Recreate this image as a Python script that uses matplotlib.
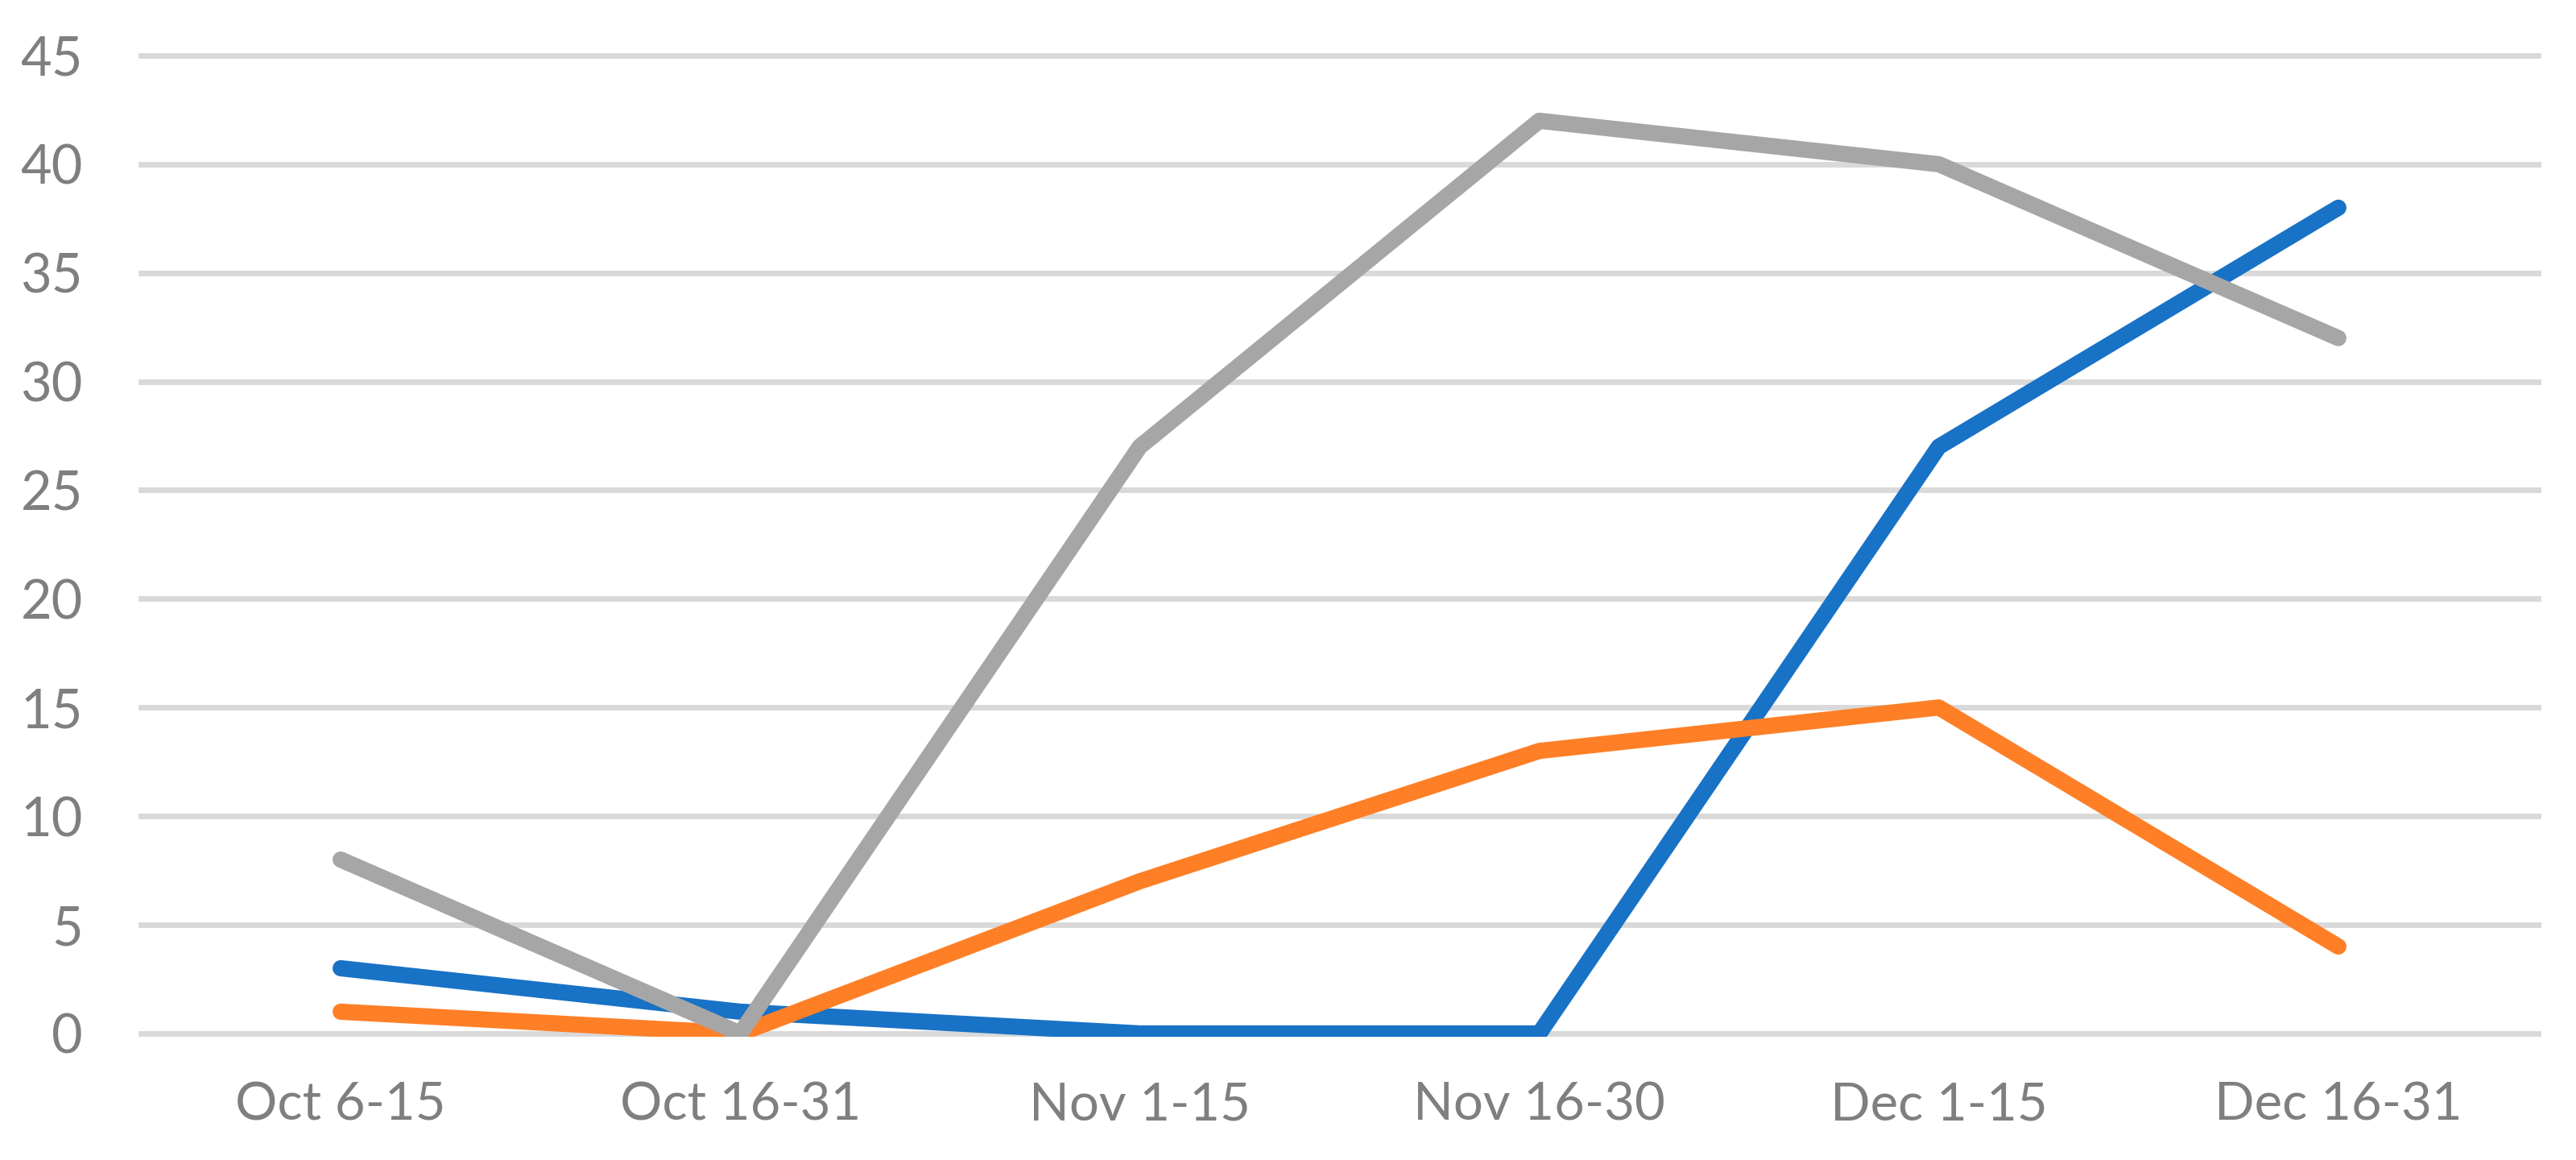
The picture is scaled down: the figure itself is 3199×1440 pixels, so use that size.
import numpy as np
import matplotlib
matplotlib.use("Agg")
import matplotlib.pyplot as plt

# data
periods = ["Oct 6-15", "Oct 16-31", "Nov 1-15", "Nov 16-30", "Dec 1-15", "Dec 16-31"]
blue_vals = [3, 1, 0, 0, 27, 38]
orange_vals = [1, 0, 7, 13, 15, 4]
gray_vals = [8, 0, 27, 42, 40, 32]
y_ticks = [0, 5, 10, 15, 20, 25, 30, 35, 40, 45]

plt.rcParams['font.family'] = ['Lato', 'DejaVu Sans']

fig = plt.figure(figsize=(31.99, 14.4), dpi=100)
ax = fig.add_axes([0.0547, 0.1063, 0.9306, 0.8486])

x = np.arange(len(periods))
line_kw = dict(linewidth=14.5, solid_capstyle="round", solid_joinstyle="round", zorder=3)
ax.plot(x, blue_vals, color="#1872C6", **line_kw)
ax.plot(x, orange_vals, color="#FE7F26", **line_kw)
ax.plot(x, gray_vals, color="#A6A6A6", **line_kw)

ax.set_xlim(-0.5, len(periods) - 0.5)
ax.set_ylim(-0.15, 45.15)
ax.set_yticks(y_ticks)
ax.set_xticks(x)
ax.set_xticklabels(periods)

for v in y_ticks:
    ax.axhline(v, color="#D9D9D9", linewidth=5, zorder=1, clip_on=False)

for s in ax.spines.values():
    s.set_visible(False)
ax.tick_params(axis="both", length=0, labelsize=48, labelcolor="#7F7F7F")
ax.tick_params(axis="x", labelsize=47)
ax.tick_params(axis="y", pad=52)
ax.tick_params(axis="x", pad=40)

fig.savefig("out.png", dpi=100, facecolor="white")
